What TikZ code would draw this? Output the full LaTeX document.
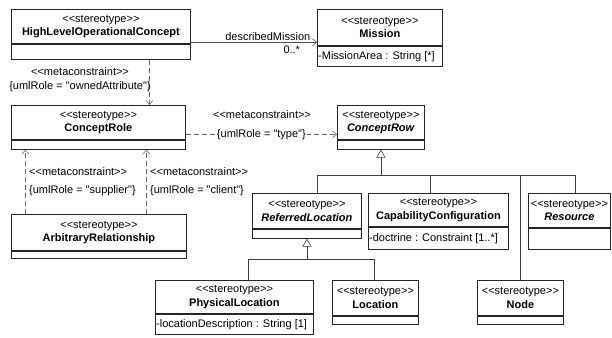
\documentclass[tikz,border=0pt]{standalone}
\usepackage{fontspec}
\newfontfamily\umlfont{Liberation Sans}
\usetikzlibrary{arrows.meta,calc,positioning}
\newcommand{\stype}{<<stereotype>>}
\newcommand{\mcon}{<<metaconstraint>>}
\tikzset{
  cls-head/.style={draw,rectangle,anchor=north west,inner sep=0pt,align=center,line width=0.8pt,black!85,text=black,font=\umlfont\fontsize{11}{13.5}\selectfont},
  cls-attr/.style={draw,rectangle,anchor=north,inner sep=0pt,line width=0.8pt,black!85},
  attr-text/.style={anchor=west,xshift=1pt,inner sep=0pt,font=\umlfont\fontsize{11}{13}\selectfont},
  lbl/.style={inner sep=1pt,text=black,font=\umlfont\fontsize{11}{13}\selectfont},
  assoc/.style={-{Straight Barb[length=4pt,width=7pt]},line width=0.6pt,black!70},
  meta/.style={-{Straight Barb[length=4pt,width=7pt]},line width=0.6pt,black!60,dash pattern=on 5pt off 3pt},
  gen/.style={-{Triangle[open,length=8pt,width=9pt]},line width=0.6pt,black!75},
  tree/.style={line width=0.6pt,black!75},
}

\begin{document}
\begin{tikzpicture}[x=1pt,y=-1pt]
  \useasboundingbox (0,0) rectangle (612,337);

  % ROW 1: concept and mission
  \node[cls-head,minimum width=179pt,minimum height=34pt] (hloc) at (11,9) {\stype\\\textbf{HighLevelOperationalConcept}};
  \node[cls-attr,minimum width=179pt,minimum height=15pt] (hloc-a) at (hloc.south) {};
  \node[cls-head,minimum width=125pt,minimum height=36pt] (mission) at (317,9) {\stype\\\textbf{Mission}};
  \node[cls-attr,minimum width=125pt,minimum height=20pt] (mission-a) at (mission.south) {};
  \node[attr-text] (mission-t) at (mission-a.west) {-MissionArea : String [*]};
  \draw[assoc] ([yshift=1.5pt]hloc.south east) -- ([yshift=1.5pt]hloc.south east -| mission.west)
    node[lbl,pos=0.61,above] (assoc-r) {describedMission}
    node[lbl,pos=0.80,below=2pt] (assoc-m) {0..*};

  % ROW 2: role and row
  \node[cls-head,minimum width=174pt,minimum height=34pt] (crole) at (11,105) {\stype\\\textbf{ConceptRole}};
  \node[cls-attr,minimum width=174pt,minimum height=9pt] (crole-a) at (crole.south) {};
  \node[cls-head,minimum width=87pt,minimum height=34pt] (crow) at (337,105) {\stype\\\textbf{\itshape ConceptRow}};
  \node[cls-attr,minimum width=87pt,minimum height=9pt] (crow-a) at (crow.south) {};

  \draw[meta] ([xshift=48.5pt]hloc-a.south) -- ([xshift=48.5pt]hloc-a.south |- crole.north);
  \node[lbl] (mc-own-s) at (80,72) {\mcon};
  \node[lbl] (mc-own) at (80,87) {\{umlRole = "ownedAttribute"\}};

  \draw[meta] ([yshift=-12pt]crole.east) -- ([yshift=-12pt]crole.east -| crow.west)
    node[lbl,midway,fill=white] (mc-type) {\{umlRole = "type"\}};
  \node[lbl] (mc-type-s) at (262,115) {\mcon};

  % ROW 3: relationship
  \node[cls-head,minimum width=175pt,minimum height=36pt] (arbrel) at (11,214) {\stype\\\textbf{ArbitraryRelationship}};
  \node[cls-attr,minimum width=175pt,minimum height=7pt] (arbrel-a) at (arbrel.south) {};
  \draw[meta] ([xshift=-73.5pt]arbrel.north) -- ([xshift=-73.5pt]arbrel.north |- crole-a.south);
  \draw[meta] ([xshift=47.5pt]arbrel.north) -- ([xshift=47.5pt]arbrel.north |- crole-a.south);
  \node[lbl,anchor=west] (mc-sup-s) at (28,172) {\mcon};
  \node[lbl,anchor=west] (mc-sup) at (28,191) {\{umlRole = "supplier"\}};
  \node[lbl,anchor=west] (mc-cli-s) at (149,172) {\mcon};
  \node[lbl,anchor=west] (mc-cli) at (149,191) {\{umlRole = "client"\}};

  % ROW 3: kinds of concept row
  \node[cls-head,minimum width=109pt,minimum height=35pt] (refloc) at (252,193) {\stype\\\textbf{\itshape ReferredLocation}};
  \node[cls-attr,minimum width=109pt,minimum height=9pt] (refloc-a) at (refloc.south) {};
  \node[cls-head,minimum width=140pt,minimum height=33pt] (capcfg) at (368,193) {\stype\\\textbf{CapabilityConfiguration}};
  \node[cls-attr,minimum width=140pt,minimum height=22pt] (capcfg-a) at (capcfg.south) {};
  \node[attr-text] (capcfg-t) at (capcfg-a.west) {-doctrine : Constraint [1..*]};
  \node[cls-head,minimum width=82pt,minimum height=34pt] (resource) at (528,193) {\stype\\\textbf{\itshape Resource}};
  \node[cls-attr,minimum width=82pt,minimum height=21pt] (resource-a) at (resource.south) {};

  % ROW 4: locations and node
  \node[cls-head,minimum width=158pt,minimum height=33pt] (phyloc) at (155,280) {\stype\\\textbf{PhysicalLocation}};
  \node[cls-attr,minimum width=158pt,minimum height=20pt] (phyloc-a) at (phyloc.south) {};
  \node[attr-text] (phyloc-t) at (phyloc-a.west) {-locationDescription : String [1]};
  \node[cls-head,minimum width=86pt,minimum height=35pt] (location) at (332,280) {\stype\\\textbf{Location}};
  \node[cls-attr,minimum width=86pt,minimum height=8pt] (location-a) at (location.south) {};
  \node[cls-head,minimum width=86pt,minimum height=35pt] (nodeb) at (477,280) {\stype\\\textbf{Node}};
  \node[cls-attr,minimum width=86pt,minimum height=8pt] (nodeb-a) at (nodeb.south) {};

  % generalisation trees
  \coordinate (jn-row) at (crow-a.south |- 0,175);
  \draw[gen] (jn-row) -- (crow-a.south);
  \draw[tree] ([xshift=10.5pt]refloc.north) |- (jn-row);
  \draw[tree] ([xshift=-8pt]capcfg.north) |- (jn-row);
  \draw[tree] (nodeb.north) |- (jn-row);
  \draw[tree] ([xshift=6pt]resource.north) |- (jn-row);

  \coordinate (jn-loc) at (refloc-a.south |- 0,259);
  \draw[gen] (jn-loc) -- (refloc-a.south);
  \draw[tree] ([xshift=14pt]phyloc.north) |- (jn-loc);
  \draw[tree] ([xshift=-1pt]location.north) |- (jn-loc);

\end{tikzpicture}
\end{document}
